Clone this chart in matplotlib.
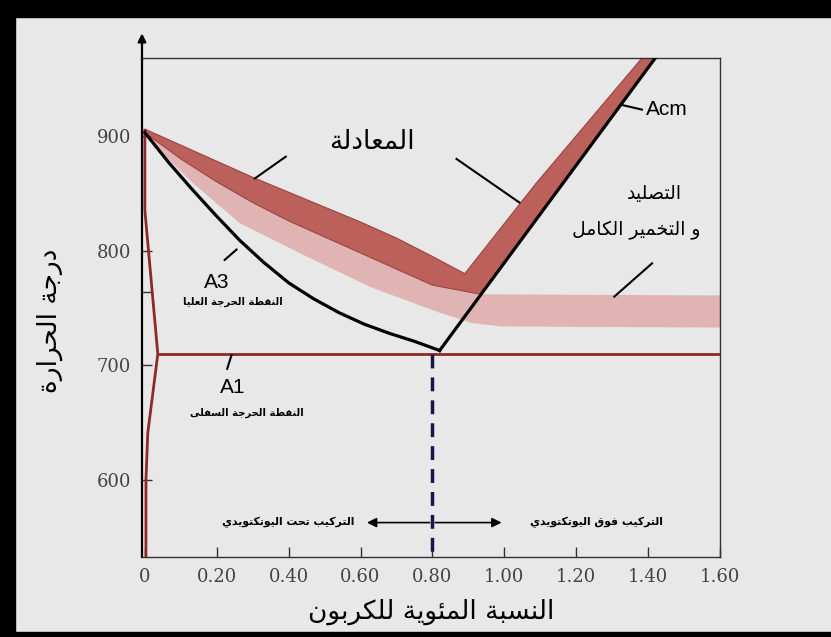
import matplotlib
matplotlib.use('Agg')
import matplotlib.pyplot as plt
from matplotlib.patches import Rectangle

# upper critical line A3 (carbon %, temperature C)
a3_carbon = [0.0, 0.066, 0.13, 0.197, 0.264, 0.33, 0.40, 0.47, 0.54, 0.61, 0.68, 0.75, 0.82]
a3_temp = [903, 877, 854, 831, 809, 790, 772, 758, 746, 736, 728, 721, 713]

# Acm line
acm_carbon = [0.82, 1.42]
acm_temp = [713, 968]

# lower critical line A1
a1_carbon = [0.036, 1.60]
a1_temp = [710, 710]

# left boundary line
gamma_carbon = [0.0, 0.0, 0.036, 0.008, 0.003, 0.003]
gamma_temp = [905, 835, 710, 641, 600, 533]

# normalising band (dark red)
norm_carbon = [0.0, 0.1, 0.2, 0.3, 0.4, 0.5, 0.6, 0.7, 0.8, 0.89]
norm_upper = [906, 892, 878, 864, 851, 838, 825, 811, 795, 780]
norm_lower_carbon = [0.0, 0.1, 0.2, 0.3, 0.4, 0.5, 0.6, 0.7, 0.8, 0.935]
norm_lower = [903, 880, 860, 842, 826, 812, 798, 784, 770, 762]
acm_band_carbon = [1.089, 1.383]
acm_band_temp = [859, 968]

# hardening / full annealing band (pink)
anneal_carbon = [0.0, 0.13, 0.264, 0.45, 0.63, 0.82, 0.91, 0.99, 1.60]
anneal_lower = [900, 860, 824, 795, 768, 746, 737, 734, 733]
anneal_top = 761

eutectoid = 0.80
x_ticks = [0, 0.2, 0.4, 0.6, 0.8, 1.0, 1.2, 1.4, 1.6]
x_labels = ['0', '0.20', '0.40', '0.60', '0.80', '1.00', '1.20', '1.40', '1.60']
y_ticks = [600, 700, 800, 900]
y_minor = [764]

# arabic letters -> (isolated, final, initial, medial) presentation forms
FORMS = {
    'ا': (0xFE8D, 0xFE8E, None, None), 'ب': (0xFE8F, 0xFE90, 0xFE91, 0xFE92),
    'ة': (0xFE93, 0xFE94, None, None), 'ت': (0xFE95, 0xFE96, 0xFE97, 0xFE98),
    'ج': (0xFE9D, 0xFE9E, 0xFE9F, 0xFEA0), 'ح': (0xFEA1, 0xFEA2, 0xFEA3, 0xFEA4),
    'خ': (0xFEA5, 0xFEA6, 0xFEA7, 0xFEA8), 'د': (0xFEA9, 0xFEAA, None, None),
    'ر': (0xFEAD, 0xFEAE, None, None), 'س': (0xFEB1, 0xFEB2, 0xFEB3, 0xFEB4),
    'ص': (0xFEB9, 0xFEBA, 0xFEBB, 0xFEBC), 'ط': (0xFEC1, 0xFEC2, 0xFEC3, 0xFEC4),
    'ع': (0xFEC9, 0xFECA, 0xFECB, 0xFECC), 'ف': (0xFED1, 0xFED2, 0xFED3, 0xFED4),
    'ق': (0xFED5, 0xFED6, 0xFED7, 0xFED8), 'ك': (0xFED9, 0xFEDA, 0xFEDB, 0xFEDC),
    'ل': (0xFEDD, 0xFEDE, 0xFEDF, 0xFEE0), 'م': (0xFEE1, 0xFEE2, 0xFEE3, 0xFEE4),
    'ن': (0xFEE5, 0xFEE6, 0xFEE7, 0xFEE8), 'و': (0xFEED, 0xFEEE, None, None),
    'ى': (0xFEEF, 0xFEF0, None, None), 'ي': (0xFEF1, 0xFEF2, 0xFEF3, 0xFEF4),
    'ئ': (0xFE89, 0xFE8A, 0xFE8B, 0xFE8C),
}


def ar(text):
    # join letters and flip to visual order
    out = []
    for i, ch in enumerate(text):
        if ch not in FORMS:
            out.append(ch)
            continue
        prev = text[i - 1] if i > 0 else ''
        nxt = text[i + 1] if i + 1 < len(text) else ''
        iso, fin, ini, med = FORMS[ch]
        jp = prev in FORMS and FORMS[prev][2] is not None
        jn = nxt in FORMS and ini is not None
        if jp and jn:
            f = med
        elif jp:
            f = fin
        elif jn:
            f = ini
        else:
            f = iso
        out.append(chr(f))
    return ''.join(out)[::-1]


bg = '#e8e8e8'
fig = plt.figure(figsize=(8.31, 6.37), dpi=100, facecolor=bg)
ax = fig.add_axes([142 / 831, 1 - 557 / 637, 578 / 831, 499 / 637], facecolor=bg)

# frame strips
for r in [(0, 0, 15 / 831, 1), (0, 1 - 17 / 637, 1, 17 / 637), (0, 0, 1, 5 / 637)]:
    fig.patches.append(Rectangle(r[:2], r[2], r[3], transform=fig.transFigure,
                                 color='black', zorder=0))

# pink band
px = norm_lower_carbon + [1.60] + anneal_carbon[::-1]
py = norm_lower + [anneal_top] + anneal_lower[::-1]
ax.fill(px, py, color='#dfb4b3', lw=0, zorder=1)

# dark band (normalising + along Acm)
dx = norm_carbon + acm_band_carbon + [acm_carbon[-1]] + norm_lower_carbon[::-1]
dy = norm_upper + acm_band_temp + [acm_temp[-1]] + norm_lower[::-1]
ax.fill(dx, dy, facecolor='#bb605b', edgecolor='#9c4340', lw=0.8, zorder=2)

ax.plot(a3_carbon, a3_temp, color='black', lw=2.3, zorder=4)
ax.plot(acm_carbon, acm_temp, color='black', lw=2.3, zorder=4)
ax.plot(a1_carbon, a1_temp, color='#8c2a2a', lw=2.0, zorder=3)
ax.plot(gamma_carbon, gamma_temp, color='#8c2a2a', lw=2.0, zorder=3)
ax.plot([eutectoid, eutectoid], [a1_temp[0], 533], color='#16164a', lw=2.5,
        dashes=(4, 2.6), zorder=3)

# arrows for hypo / hyper eutectoid
for tip in (0.61, 1.00):
    ax.annotate('', xy=(tip, 563), xytext=(eutectoid, 563),
                arrowprops=dict(arrowstyle='-|>', color='black', lw=1.2,
                                mutation_scale=14), zorder=5)

afont = 'DejaVu Sans'
ax.text(0.583, 563, ar('التركيب تحت اليوتكتويدي'), ha='right', va='center',
        fontsize=7.8, fontweight='bold', family=afont)
ax.text(1.072, 563, ar('التركيب فوق اليوتكتويدي'), ha='left', va='center',
        fontsize=7.8, fontweight='bold', family=afont)

ax.text(0.633, 895, ar('المعادلة'), ha='center', va='center', fontsize=19, family=afont)
ax.text(0.2, 772, 'A3', ha='center', va='center', fontsize=15, family='Liberation Sans')
ax.text(0.245, 755, ar('النقطة الحرجة العليا'), ha='center', va='center',
        fontsize=7.2, fontweight='bold', family=afont)
ax.text(0.245, 681, 'A1', ha='center', va='center', fontsize=15, family='Liberation Sans')
ax.text(0.283, 659, ar('النقطة الحرجة السفلى'), ha='center', va='center',
        fontsize=7.2, fontweight='bold', family=afont)
ax.text(1.393, 923, 'Acm', ha='left', va='center', fontsize=15, family='Liberation Sans')
ax.text(1.417, 850, ar('التصليد'), ha='center', va='center', fontsize=13.5, family=afont)
ax.text(1.367, 818, ar('و التخمير الكامل'), ha='center', va='center', fontsize=13.5,
        family=afont)

# leader lines
leaders = [
    ([0.255, 0.222], [801, 792]),
    ([0.241, 0.229], [709, 697]),
    ([0.392, 0.306], [882, 863]),
    ([0.867, 1.042], [880, 842]),
    ([1.328, 1.383], [927, 923]),
    ([1.411, 1.306], [789, 760]),
]
for lx, ly in leaders:
    ax.plot(lx, ly, color='black', lw=1.5, zorder=5)

ax.set_xlim(-0.008, 1.60)
ax.set_ylim(533, 968)
ax.set_xticks(x_ticks)
ax.set_xticklabels(x_labels)
ax.set_yticks(y_ticks)
ax.set_yticks(y_minor, minor=True)
ax.tick_params(which='both', direction='in', length=7, width=1, color='#333333',
               labelsize=13, labelcolor='#444444', pad=8)
for lab in ax.get_xticklabels() + ax.get_yticklabels():
    lab.set_family('DejaVu Serif')

for s in ['top', 'right', 'bottom']:
    ax.spines[s].set_color('#333333')
    ax.spines[s].set_linewidth(1.0)
ax.spines['left'].set_linewidth(1.6)
ax.annotate('', xy=(0, 1.055), xytext=(0, 0.99), xycoords='axes fraction',
            arrowprops=dict(arrowstyle='-|>', color='black', lw=1.6,
                            mutation_scale=12))

fig.text(431 / 831, 1 - 612 / 637, ar('النسبة المئوية للكربون'), ha='center',
         va='center', fontsize=19, family=afont)
fig.text(50 / 831, 1 - 321 / 637, ar('درجة الحرارة'), ha='center', va='center',
         rotation=90, fontsize=19, family=afont)

fig.savefig('out.png', dpi=100, facecolor=bg)
